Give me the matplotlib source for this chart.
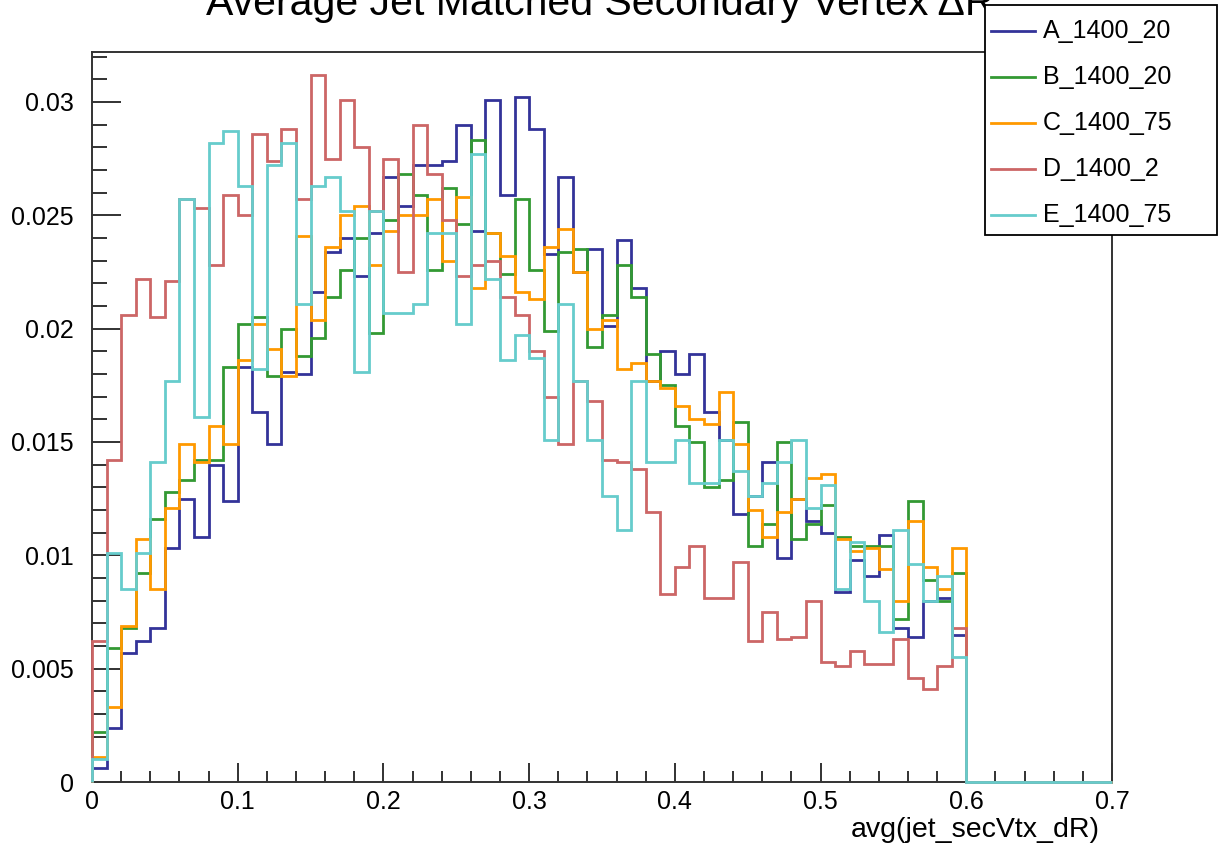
import matplotlib
matplotlib.use("Agg")
import matplotlib.pyplot as plt
import numpy as np
from matplotlib.ticker import MultipleLocator, FuncFormatter
from matplotlib.patches import Rectangle
from matplotlib.lines import Line2D

plt.rcParams['font.family'] = ['Liberation Sans', 'DejaVu Sans']

# 70 bins of width 0.01 from 0 to 0.7, filled up to 0.6
bin_edges = np.linspace(0.0, 0.7, 71)
empty_tail = [0.0] * 10

labels = ['A_1400_20', 'B_1400_20', 'C_1400_75', 'D_1400_2', 'E_1400_75']
colors = ['#333399', '#339933', '#ff9900', '#cc6666', '#66cccc']

a_1400_20 = [0.0006, 0.0024, 0.0057, 0.0062, 0.0068, 0.0103, 0.0125, 0.0108, 0.0140, 0.0124,
             0.0183, 0.0163, 0.0149, 0.0181, 0.0180, 0.0216, 0.0234, 0.0240, 0.0223, 0.0242,
             0.0267, 0.0254, 0.0272, 0.0272, 0.0274, 0.0290, 0.0243, 0.0301, 0.0259, 0.0302,
             0.0288, 0.0233, 0.0267, 0.0225, 0.0235, 0.0201, 0.0239, 0.0218, 0.0177, 0.0190,
             0.0180, 0.0189, 0.0163, 0.0151, 0.0118, 0.0126, 0.0141, 0.0099, 0.0125, 0.0115,
             0.0110, 0.0084, 0.0098, 0.0091, 0.0109, 0.0068, 0.0064, 0.0080, 0.0081, 0.0065]

b_1400_20 = [0.0022, 0.0059, 0.0068, 0.0092, 0.0116, 0.0128, 0.0133, 0.0142, 0.0142, 0.0183,
             0.0202, 0.0205, 0.0179, 0.0200, 0.0188, 0.0196, 0.0214, 0.0226, 0.0240, 0.0198,
             0.0248, 0.0268, 0.0259, 0.0226, 0.0262, 0.0246, 0.0283, 0.0242, 0.0224, 0.0257,
             0.0226, 0.0199, 0.0234, 0.0235, 0.0192, 0.0206, 0.0228, 0.0214, 0.0189, 0.0175,
             0.0157, 0.0150, 0.0130, 0.0133, 0.0159, 0.0104, 0.0114, 0.0150, 0.0107, 0.0114,
             0.0122, 0.0108, 0.0104, 0.0104, 0.0104, 0.0072, 0.0124, 0.0089, 0.0080, 0.0092]

c_1400_75 = [0.0011, 0.0033, 0.0069, 0.0107, 0.0085, 0.0121, 0.0149, 0.0141, 0.0157, 0.0149,
             0.0186, 0.0202, 0.0191, 0.0179, 0.0241, 0.0204, 0.0236, 0.0250, 0.0254, 0.0228,
             0.0243, 0.0250, 0.0250, 0.0257, 0.0230, 0.0258, 0.0218, 0.0242, 0.0232, 0.0216,
             0.0213, 0.0236, 0.0244, 0.0225, 0.0200, 0.0204, 0.0182, 0.0185, 0.0177, 0.0174,
             0.0166, 0.0160, 0.0158, 0.0172, 0.0149, 0.0120, 0.0108, 0.0119, 0.0125, 0.0134,
             0.0136, 0.0107, 0.0102, 0.0103, 0.0094, 0.0080, 0.0115, 0.0095, 0.0085, 0.0103]

d_1400_2 = [0.0062, 0.0142, 0.0206, 0.0222, 0.0205, 0.0221, 0.0257, 0.0253, 0.0228, 0.0259,
            0.0250, 0.0286, 0.0274, 0.0288, 0.0257, 0.0312, 0.0275, 0.0301, 0.0280, 0.0252,
            0.0275, 0.0225, 0.0290, 0.0268, 0.0248, 0.0223, 0.0228, 0.0230, 0.0214, 0.0206,
            0.0190, 0.0170, 0.0149, 0.0177, 0.0168, 0.0142, 0.0141, 0.0138, 0.0119, 0.0083,
            0.0095, 0.0104, 0.0081, 0.0081, 0.0097, 0.0062, 0.0075, 0.0063, 0.0064, 0.0080,
            0.0053, 0.0051, 0.0058, 0.0052, 0.0052, 0.0063, 0.0046, 0.0041, 0.0051, 0.0068]

e_1400_75 = [0.0010, 0.0101, 0.0085, 0.0101, 0.0141, 0.0177, 0.0257, 0.0161, 0.0282, 0.0287,
             0.0263, 0.0182, 0.0272, 0.0282, 0.0211, 0.0263, 0.0267, 0.0252, 0.0181, 0.0252,
             0.0207, 0.0207, 0.0211, 0.0242, 0.0242, 0.0202, 0.0277, 0.0222, 0.0186, 0.0197,
             0.0187, 0.0151, 0.0211, 0.0177, 0.0151, 0.0126, 0.0111, 0.0177, 0.0141, 0.0141,
             0.0151, 0.0132, 0.0132, 0.0151, 0.0137, 0.0126, 0.0132, 0.0141, 0.0151, 0.0121,
             0.0131, 0.0085, 0.0106, 0.0080, 0.0066, 0.0111, 0.0096, 0.0080, 0.0091, 0.0055]

series = [a_1400_20, b_1400_20, c_1400_75, d_1400_2, e_1400_75]

W, H = 1219, 850
fig = plt.figure(figsize=(W / 100, H / 100), dpi=100)
ax = fig.add_axes([92 / W, 68 / H, (1112 - 92) / W, (782 - 52) / H])

for vals, col in zip(series, colors):
    ax.stairs(vals + empty_tail, bin_edges, baseline=0, color=col,
              linewidth=2.0, zorder=3, clip_on=False)

ax.set_xlim(0, 0.7)
ax.set_ylim(0, 0.0322)

ax.xaxis.set_major_locator(MultipleLocator(0.1))
ax.xaxis.set_minor_locator(MultipleLocator(0.02))
ax.yaxis.set_major_locator(MultipleLocator(0.005))
ax.yaxis.set_minor_locator(MultipleLocator(0.001))
fmt = FuncFormatter(lambda v, p: f'{v:g}')
ax.xaxis.set_major_formatter(fmt)
ax.yaxis.set_major_formatter(fmt)

ax.tick_params(axis='both', which='both', direction='in', color='#222222',
               width=1.3, labelsize=18)
ax.tick_params(axis='y', which='major', length=21, pad=13)
ax.tick_params(axis='y', which='minor', length=11)
ax.tick_params(axis='x', which='major', length=14, pad=6)
ax.tick_params(axis='x', which='minor', length=8)

for sp in ax.spines.values():
    sp.set_linewidth(1.4)
    sp.set_color('#333333')

fig.text(1100 / W, 1 - 830 / H, 'avg(jet_secVtx_dR)', ha='right', va='center',
         fontsize=20.5)

# title sits at the very top of the canvas, partly off the page
fig.text(600 / W, 1 - 15 / H, 'Average Jet Matched Secondary Vertex \u0394R',
         ha='center', va='baseline', fontsize=29.5)

# legend box drawn over the title
lx0, lx1 = 985 / W, 1217 / W
ly_top, ly_bot = 1 - 5 / H, 1 - 235 / H
fig.patches.append(Rectangle((lx0, ly_bot), lx1 - lx0, ly_top - ly_bot,
                             transform=fig.transFigure, facecolor='white',
                             edgecolor='black', linewidth=1.3, zorder=10))
row_h = (235 - 5) / 5
for i, (lab, col) in enumerate(zip(labels, colors)):
    yc = 1 - (8 + row_h * (i + 0.5)) / H
    fig.lines.append(Line2D([991 / W, 1035 / W], [yc, yc], transform=fig.transFigure,
                            color=col, linewidth=2.0, zorder=11))
    fig.text(1043 / W, yc, lab, ha='left', va='center', fontsize=18, zorder=12)

fig.savefig('out.png', dpi=100)
